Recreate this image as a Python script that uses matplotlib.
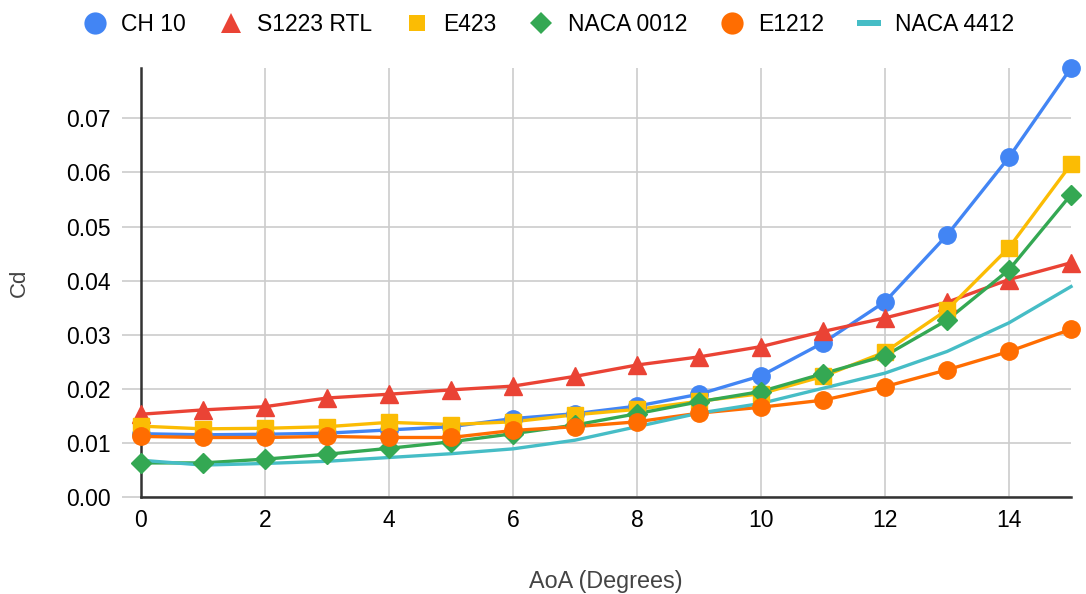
import numpy as np
import matplotlib.pyplot as plt
from matplotlib.lines import Line2D

plt.rcParams['font.family'] = ['Liberation Sans', 'DejaVu Sans']

# AoA (degrees)
aoa = list(range(16))

# Cd for each airfoil
ch10 = [0.0117, 0.0115, 0.0116, 0.0118, 0.0124, 0.0130, 0.0145, 0.0154, 0.0168, 0.0190,
        0.0224, 0.0285, 0.0361, 0.0484, 0.0628, 0.0793]
s1223 = [0.0153, 0.0161, 0.0167, 0.0183, 0.0190, 0.0198, 0.0205, 0.0223, 0.0244, 0.0259,
         0.0278, 0.0306, 0.0331, 0.0360, 0.0402, 0.0433]
e423 = [0.0131, 0.0126, 0.0127, 0.0130, 0.0138, 0.0134, 0.0139, 0.0152, 0.0162, 0.0177,
        0.0191, 0.0223, 0.0268, 0.0346, 0.0461, 0.0615]
naca0012 = [0.0063, 0.0063, 0.0070, 0.0079, 0.0090, 0.0102, 0.0117, 0.0133, 0.0154, 0.0176,
            0.0195, 0.0228, 0.0261, 0.0327, 0.0420, 0.0559]
e1212 = [0.0112, 0.0110, 0.0110, 0.0112, 0.0110, 0.0110, 0.0123, 0.0130, 0.0139, 0.0155,
         0.0166, 0.0179, 0.0204, 0.0235, 0.0269, 0.0310]
naca4412 = [0.0068, 0.0059, 0.0062, 0.0066, 0.0073, 0.0080, 0.0089, 0.0105, 0.0130, 0.0155,
            0.0173, 0.0201, 0.0229, 0.0269, 0.0322, 0.0389]

# name, data, colour, marker, marker size in plot, marker size in legend
series = [
    ('CH 10', ch10, '#4285F4', 'o', 12.5, 16),
    ('S1223 RTL', s1223, '#EA4335', '^', 13, 14),
    ('E423', e423, '#FBBC04', 's', 11, 11),
    ('NACA 0012', naca0012, '#34A853', 'D', 10.5, 11.5),
    ('E1212', e1212, '#FF6D01', 'o', 12.5, 16),
    ('NACA 4412', naca4412, '#46BDC6', None, 0, 17.5),
]

fig = plt.figure(figsize=(10.86, 5.94), dpi=100)
ax = fig.add_axes([0.1298, 0.1633, 0.8564, 0.7222])

for i, (name, vals, col, mk, ms, lms) in enumerate(series):
    ax.plot(aoa, vals, color=col, lw=2.4, zorder=2 + i * 0.01, clip_on=False)
for i, (name, vals, col, mk, ms, lms) in enumerate(series):
    if mk:
        ax.plot(aoa, vals, ls='none', marker=mk, ms=ms, color=col,
                mec=col, zorder=3 + i * 0.01, clip_on=False)

ax.set_xlim(0, 15)
ax.set_ylim(0, 0.0793)
ax.set_xticks(range(0, 16, 2))
ax.set_yticks(np.arange(0, 0.071, 0.01))
ax.set_yticklabels(['%.2f' % v for v in np.arange(0, 0.071, 0.01)])
ax.grid(True, color='#cccccc', lw=1.2)
ax.set_axisbelow(True)
for s in ['top', 'right']:
    ax.spines[s].set_visible(False)
for s in ['left', 'bottom']:
    ax.spines[s].set_color('#333333')
    ax.spines[s].set_linewidth(1.8)
ax.tick_params(axis='y', length=14, color='#cccccc', width=1.2, pad=8, labelsize=16.5)
ax.tick_params(axis='x', length=0, pad=9, labelsize=16.5)

ax.set_xlabel('AoA (Degrees)', fontsize=16.8, color='#444444', labelpad=27)
ax.set_ylabel('Cd', fontsize=16, color='#444444', labelpad=26)

handles = []
for name, vals, col, mk, ms, lms in series:
    if mk:
        handles.append(Line2D([], [], ls='none', marker=mk, ms=lms, color=col,
                              markeredgewidth=0, label=name))
    else:
        # flat bar swatch for the line-only series
        handles.append(Line2D([], [], ls='none', ms=lms, color=col, markeredgewidth=0,
                              marker=[(-1, -0.28), (1, -0.28), (1, 0.28), (-1, 0.28), (-1, -0.28)],
                              label=name))
leg = fig.legend(handles=handles, loc='upper center', bbox_to_anchor=(0.5055, 1.012),
                 ncol=6, frameon=False, fontsize=16.5, handlelength=1.0,
                 handletextpad=0.65, columnspacing=1.45)

fig.savefig('out.png', dpi=100)
